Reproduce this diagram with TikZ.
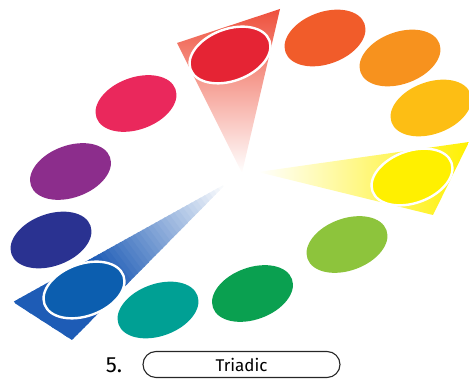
\documentclass[tikz,border=0pt]{standalone}
\usepackage{fontspec}
\setmainfont{Fira Sans}
\definecolor{cRed}{RGB}{229,36,52}
\definecolor{cOrRed}{RGB}{241,92,42}
\definecolor{cOrange}{RGB}{247,146,30}
\definecolor{cYelOr}{RGB}{253,190,20}
\definecolor{cYellow}{RGB}{255,240,0}
\definecolor{cYelGreen}{RGB}{141,196,60}
\definecolor{cGreen}{RGB}{10,160,80}
\definecolor{cTeal}{RGB}{0,160,148}
\definecolor{cBlue}{RGB}{12,94,175}
\definecolor{cDkBlue}{RGB}{42,50,145}
\definecolor{cPurple}{RGB}{140,45,140}
\definecolor{cMagenta}{RGB}{234,40,92}
\definecolor{wRed}{RGB}{238,80,60}
\definecolor{wBlue}{RGB}{30,92,182}
\definecolor{wYellow}{RGB}{255,240,0}
\tikzset{
  ring/.style={draw=white, line width=2.4pt},
  labelbox/.style={draw=black!85, line width=1.1pt, rounded corners=13pt,
    minimum width=197pt, minimum height=26pt, inner sep=0pt, font=\fontsize{17}{20}\selectfont},
  numtext/.style={inner sep=0pt, font=\fontsize{22}{26}\selectfont}
}
\newcommand{\blob}[3]{\fill[#1, rotate around={20:(#2,#3)}] (#2,#3) ellipse (42 and 26);}
\newcommand{\ringat}[2]{\draw[ring, rotate around={20:(#1,#2)}] (#1,#2) ellipse (42 and 26);}
\begin{document}
\begin{tikzpicture}[x=1pt,y=1pt]
\useasboundingbox (0,0) rectangle (469,379);
% wedges
\shade[top color=wRed, middle color=wRed!55!white, bottom color=white]
  (177,336) -- (280,370) -- (242,206) -- cycle;
\shade[left color=white, middle color=wYellow!55!white, right color=wYellow]
  (469,237) -- (433,164) -- (258,207) -- cycle;
\begin{scope}
  \clip (13,77) -- (72,39) -- (227,196) -- cycle;
  \begin{scope}[shift={(227,196)}, rotate=217]
    \foreach \i in {0,...,47} {
      \pgfmathsetmacro{\ta}{\i/48}
      \pgfmathsetmacro{\tb}{(\i+1.3)/48}
      \pgfmathsetmacro{\pp}{min(100,160*\ta)}
      \fill[wBlue!\pp!white] (\ta*240,-160) rectangle (\tb*240,160);
    }
  \end{scope}
\end{scope}
% ellipses
\blob{cRed}{230}{324}
\blob{cOrRed}{325}{341}
\blob{cOrange}{400}{321}
\blob{cYelOr}{431}{271}
\blob{cYellow}{412}{202}
\blob{cYelGreen}{347}{134.5}
\blob{cGreen}{252.5}{85.5}
\blob{cTeal}{158}{69}
\blob{cBlue}{84}{89}
\blob{cDkBlue}{51}{139}
\blob{cPurple}{70.5}{207.5}
\blob{cMagenta}{136}{275.5}
% highlight rings
\ringat{230}{324}
\ringat{412}{202}
\ringat{84}{89}
% label
\node[numtext] (num) at (114,14) {5.};
\node[labelbox] (name) at (241.5,14.5) {Triadic};
\end{tikzpicture}
\end{document}
